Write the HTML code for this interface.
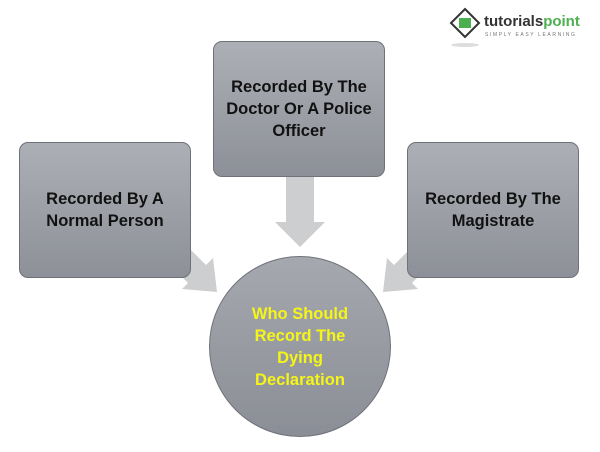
<!DOCTYPE html>
<html><head><style>
body{margin:0;width:600px;height:452px;background:#fff;position:relative;overflow:hidden;font-family:"Liberation Sans",sans-serif}
.box{position:absolute;width:172px;height:136px;border:1px solid #6e7178;border-radius:9px;background:linear-gradient(#acafb5,#8d9098);display:flex;align-items:center;justify-content:center;text-align:center;font-weight:bold;font-size:16.5px;line-height:22px;color:#111;box-sizing:border-box}
.circ{position:absolute;left:209px;top:256px;width:182px;height:181px;border:1px solid #6e7178;border-radius:50%;background:linear-gradient(#a5a8ae,#8b8e96);box-sizing:border-box;display:flex;align-items:center;justify-content:center;text-align:center;font-weight:bold;font-size:16.5px;line-height:22px;color:#f5f518}
</style></head><body>
<svg width="600" height="452" style="position:absolute;left:0;top:0">
<polygon points="286,170 314,170 314,222 325,222 300,247 275,222 286,222" fill="#cdcecf"/>
<polygon points="164,223 206,265 213,258 217,292 182,289 188,283 146,241" fill="#cdcecf"/>
<polygon points="436,223 394,265 387,258 383,292 418,289 412,283 454,241" fill="#cdcecf"/>
<g transform="translate(449,7)">
<polygon points="16,2 30,16 16,30 2,16" fill="none" stroke="#333" stroke-width="2"/>
<rect x="10" y="11" width="12" height="10" fill="#4caf50"/>
<ellipse cx="16" cy="38" rx="14" ry="2" fill="#ddd"/>
</g>
<text x="484" y="26" font-family="Liberation Sans" font-weight="bold" font-size="15" fill="#333">tutorials<tspan fill="#4caf50">point</tspan></text>
<text x="485" y="36" font-family="Liberation Sans" font-size="5" fill="#777" letter-spacing="1.6">SIMPLY EASY LEARNING</text>
</svg>
<div class="box" style="left:19px;top:142px">Recorded By A<br>Normal Person</div>
<div class="box" style="left:213px;top:41px">Recorded By The<br>Doctor Or A Police<br>Officer</div>
<div class="box" style="left:407px;top:142px">Recorded By The<br>Magistrate</div>
<div class="circ">Who Should<br>Record The<br>Dying<br>Declaration</div>
</body></html>
